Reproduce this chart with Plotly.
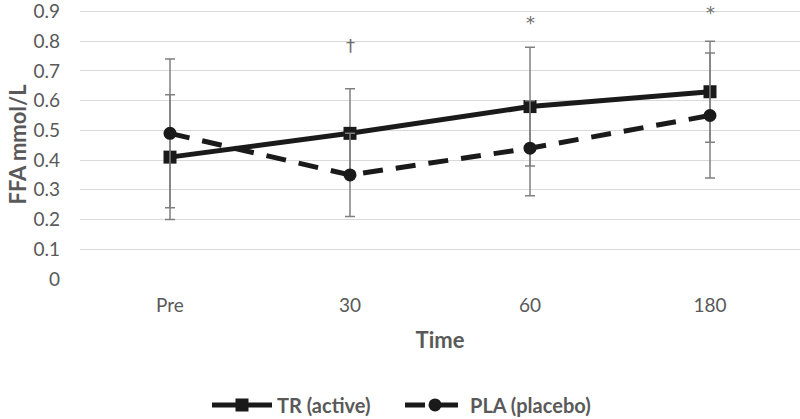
import plotly.graph_objects as go

categories = ["Pre", "30", "60", "180"]
tr_values = [0.41, 0.49, 0.58, 0.63]
tr_err = [0.21, 0.15, 0.20, 0.17]
pla_values = [0.49, 0.35, 0.44, 0.55]
pla_err = [0.25, 0.14, 0.16, 0.21]
# significance marks: (category index, y value, symbol)
marks = [(1, 0.785, "†"), (2, 0.863, "*"), (3, 0.897, "*")]

GRAY = "#595959"
FONT = "Lato"
YTOP = 0.905

fig = go.Figure()
fig.add_trace(go.Scatter(
    x=categories, y=tr_values, name="TR (active)", mode="lines+markers",
    line=dict(color="#1a1a1a", width=5),
    marker=dict(symbol="square", size=13, color="#1a1a1a"),
    error_y=dict(type="data", array=tr_err, visible=True, color="#808080", thickness=1.5, width=5),
))
fig.add_trace(go.Scatter(
    x=categories, y=pla_values, name="PLA (placebo)", mode="lines+markers",
    line=dict(color="#1a1a1a", width=5, dash="20px,13px"),
    marker=dict(symbol="circle", size=13, color="#1a1a1a"),
    error_y=dict(type="data", array=pla_err, visible=True, color="#808080", thickness=1.5, width=5),
))

for x, y, t in marks:
    fig.add_annotation(x=x, y=y, text=t, showarrow=False, xref="x", yref="y",
                       yanchor="middle", xanchor="center",
                       font=dict(family="DejaVu Sans", size=18, color="#6e6e6e"))

fig.update_layout(
    width=800, height=419,
    margin=dict(l=80, r=0, t=10, b=140, autoexpand=False),
    paper_bgcolor="white", plot_bgcolor="white",
    font=dict(family=FONT, color=GRAY, size=19),
    showlegend=True,
    legend=dict(orientation="h", xref="container", x=0.5, xanchor="center",
                y=-0.468, yanchor="middle",
                font=dict(family=FONT, size=20, color=GRAY, weight="bold"),
                itemwidth=60, entrywidth=118, entrywidthmode="pixels"),
    xaxis=dict(type="category", categoryorder="array", categoryarray=categories,
               range=[-0.5, 3.5], showgrid=False, zeroline=False, showline=False,
               automargin=False, ticks="", tickfont=dict(size=19, color=GRAY),
               ticklabelstandoff=13,
               title=dict(text="<b>Time</b>", font=dict(size=22, color=GRAY), standoff=17)),
    yaxis=dict(range=[0, YTOP], dtick=0.1, tick0=0, showgrid=True, gridcolor="#d9d9d9", gridwidth=1.2,
               zeroline=False, showline=False, ticks="", tickformat="~g", automargin=False,
               ticklabeloverflow="allow",
               tickfont=dict(size=19, color=GRAY), ticklabelstandoff=19,
               title=dict(text="<b>FFA mmol/L</b>", font=dict(size=22, color=GRAY), standoff=0)),
)

fig.write_html("out.html", config={"displayModeBar": False},
               post_script="document.body.style.margin='0px';")
